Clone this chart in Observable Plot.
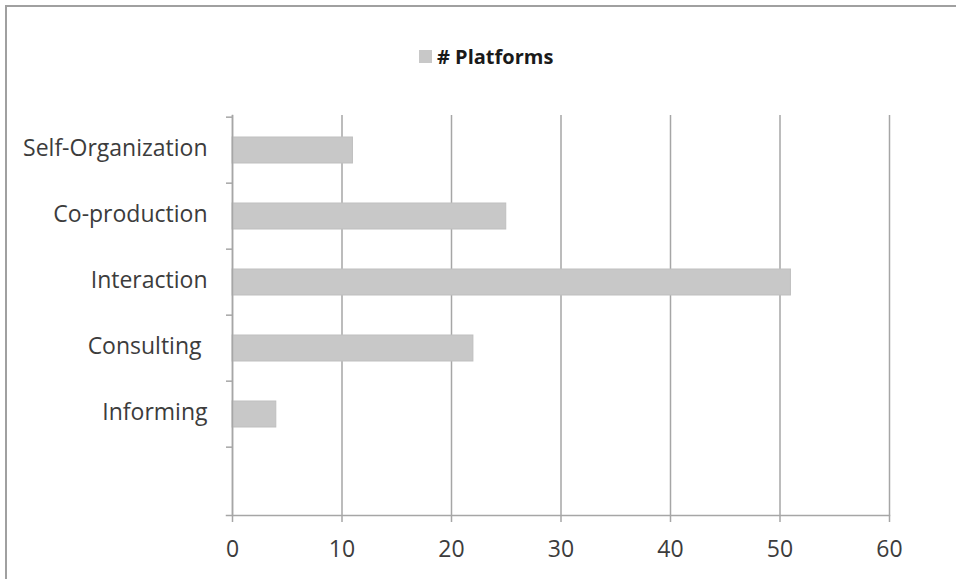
<!DOCTYPE html>
<html>
<head>
<meta charset="utf-8">
<script src="https://cdn.jsdelivr.net/npm/d3@7"></script>
<script src="https://cdn.jsdelivr.net/npm/@observablehq/plot@0.6"></script>
<style>
  html, body { margin: 0; padding: 0; background: #fff; }
  #wrap { position: relative; width: 956px; height: 579px; overflow: hidden; background: #fff; font-family: "Open Sans", Lato, sans-serif; }
  #border { position: absolute; left: 5px; top: 5px; width: 2000px; height: 2000px; border-top: 2px solid #a0a0a0; border-left: 2px solid #a0a0a0; pointer-events: none; }
  #legend { height: 100px; position: relative; }
  #legend .item { position: absolute; left: 419px; top: 43px; display: flex; align-items: center; gap: 5px; font-weight: bold; font-size: 20px; color: #1a1a1a; }
  #legend .sw { width: 13px; height: 13px; background: #c8c8c8; }
  svg { display: block; }
</style>
</head>
<body>
<div id="wrap">
  <div id="legend"><div class="item"><span class="sw"></span><span id="legendLabel"></span></div></div>
  <div id="chart"></div>
  <div id="border"></div>
</div>
<script>
const seriesName = "# Platforms";
const categories = ["Self-Organization", "Co-production", "Interaction", "Consulting\u00a0", "Informing"];
const values = [11, 25, 51, 22, 4];
const xTicks = [0, 10, 20, 30, 40, 50, 60];

document.getElementById("legendLabel").textContent = seriesName;

const data = categories.map((c, i) => ({category: c, value: values[i]}));
const yDomain = [...categories, ""];

const height = 479, marginTop = 15, marginBottom = 64;
const step = (height - marginTop - marginBottom) / yDomain.length;
const axisColor = "#a6a6a6";
const textColor = "#3c3c3c";

const chart = Plot.plot({
  width: 956,
  height,
  marginLeft: 232,
  marginRight: 67,
  marginTop,
  marginBottom,
  style: {fontFamily: "'Open Sans', Lato, sans-serif", fontSize: "23px", color: textColor, background: "transparent"},
  x: {domain: [0, 60], ticks: xTicks},
  y: {domain: yDomain, paddingInner: 0.6, paddingOuter: 0.3},
  marks: [
    Plot.gridX(xTicks, {stroke: axisColor, strokeOpacity: 1, strokeWidth: 1.5}),
    Plot.barX(data, {x: "value", y: "category", fill: "#c8c8c8", stroke: "#bfbfbf", strokeWidth: 1}),
    Plot.axisY({tickSize: 0, tickPadding: 25, dy: -1.5, label: null, fontSize: 23, fill: textColor}),
    Plot.axisY({ticks: yDomain, tickSize: 6, tickFormat: () => "", dy: -step / 2, stroke: axisColor, strokeWidth: 1.5, label: null}),
    Plot.axisX({ticks: xTicks, tickSize: 7, tickPadding: 18, stroke: axisColor, strokeWidth: 1.5, label: null, fontSize: 23, fill: textColor}),
    Plot.frame({anchor: "bottom", insetLeft: -6, stroke: axisColor, strokeWidth: 1.5}),
    Plot.frame({anchor: "left", stroke: axisColor, strokeWidth: 1.5})
  ]
});
document.getElementById("chart").appendChild(chart);
</script>
</body>
</html>
